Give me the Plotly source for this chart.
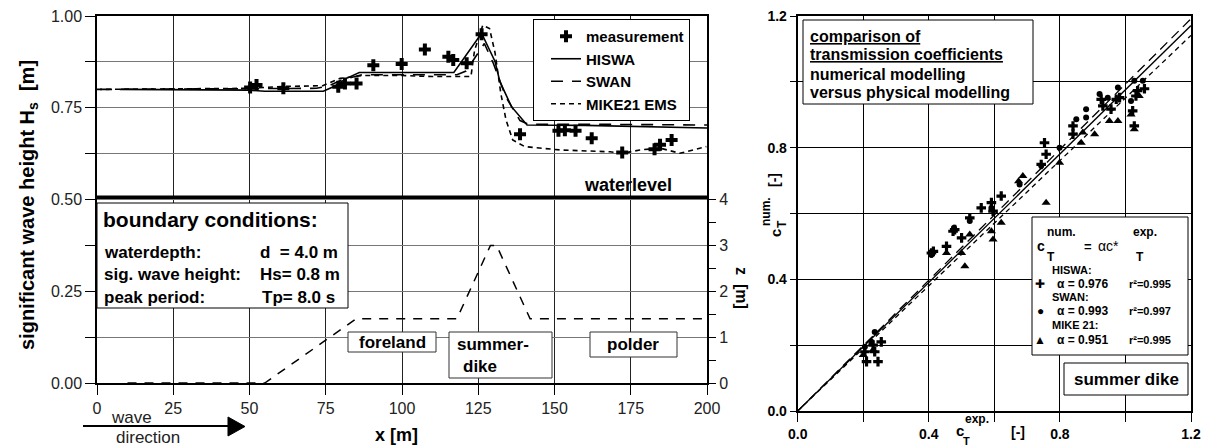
import plotly.graph_objects as go

# ---------------- Left panel data (wave height along the flume) ----------------
meas_x = [50.2, 52.3, 61.1, 79.1, 81.3, 85.1, 90.6, 99.9, 107.5, 115.2, 116.8, 121.2,
          126.1, 138.7, 151.3, 153.4, 156.9, 162.2, 172.2, 182.8, 184.6, 188.4]
meas_h = [0.805, 0.812, 0.803, 0.807, 0.816, 0.816, 0.866, 0.869, 0.909, 0.889, 0.880, 0.871,
          0.950, 0.678, 0.687, 0.689, 0.687, 0.667, 0.628, 0.637, 0.649, 0.662]

hiswa_x = [7.5, 50, 55, 72, 74.2, 77.5, 81.8, 86, 100, 117, 126.1, 130.5, 132.1, 135.9, 141, 160, 200]
hiswa_h = [0.800, 0.798, 0.795, 0.794, 0.795, 0.807, 0.830, 0.846, 0.846, 0.846, 0.953, 0.876,
           0.821, 0.753, 0.703, 0.702, 0.695]

swan_x = [1, 50, 72, 76, 80, 87, 100, 118, 121, 123.3, 127, 130, 134, 138.7, 141.5, 160, 200]
swan_h = [0.800, 0.802, 0.803, 0.810, 0.825, 0.840, 0.840, 0.840, 0.850, 0.880, 0.925, 0.870,
          0.780, 0.715, 0.705, 0.705, 0.703]

mike_x = [0, 50, 61, 74, 79.7, 87, 100, 110, 122.6, 123.8, 126.5, 128.7, 130.5, 132.4, 134.1,
          136.3, 140.3, 151.8, 168.2, 172.5, 178, 184.6, 191.1, 199.8]
mike_h = [0.800, 0.803, 0.808, 0.810, 0.830, 0.838, 0.838, 0.835, 0.835, 0.907, 0.975, 0.966,
          0.900, 0.789, 0.717, 0.662, 0.644, 0.635, 0.630, 0.626, 0.635, 0.640, 0.626, 0.644]

profile_x = [10, 55, 85, 118, 129, 131, 142, 200]
profile_z = [0.0, 0.0, 1.4, 1.4, 3.0, 3.0, 1.4, 1.4]
waterlevel_z = 4.05

x_ticks = [0, 25, 50, 75, 100, 125, 150, 175, 200]
h_ticks = [0, 0.125, 0.25, 0.375, 0.5, 0.625, 0.75, 0.875, 1.0]
h_ticktext = ["0.00", " ", "0.25", " ", "0.50", " ", "0.75", " ", "1.00"]
z_ticks = [0, 0.5, 1, 1.5, 2, 2.5, 3, 3.5, 4]
z_ticktext = ["0", " ", "1", " ", "2", " ", "3", " ", "4"]

# ---------------- Right panel data (transmission coefficients) ----------------
hiswa_exp = [0.205, 0.21, 0.245, 0.235, 0.255, 0.23, 0.408, 0.414, 0.454, 0.474, 0.50, 0.479,
             0.525, 0.56, 0.591, 0.596, 0.621, 0.743, 0.753, 0.758, 0.84, 0.84, 0.926, 0.931,
             0.956, 0.972, 0.982, 1.022, 1.027, 1.037, 1.058, 1.032]
hiswa_num = [0.18, 0.15, 0.15, 0.18, 0.21, 0.20, 0.48, 0.485, 0.50, 0.546, 0.526, 0.551,
             0.587, 0.617, 0.633, 0.607, 0.653, 0.749, 0.815, 0.78, 0.841, 0.866, 0.947, 0.927,
             0.917, 0.947, 0.952, 0.912, 0.866, 0.973, 0.979, 0.957]

swan_exp = [0.205, 0.235, 0.225, 0.408, 0.477, 0.525, 0.591, 0.677, 0.743, 0.799, 0.85, 0.88,
            0.88, 0.921, 0.946, 0.977, 1.017, 1.027, 1.053]
swan_num = [0.195, 0.24, 0.21, 0.475, 0.557, 0.577, 0.617, 0.688, 0.745, 0.80, 0.886, 0.892,
            0.917, 0.963, 0.952, 0.983, 0.942, 1.003, 1.003]

mike_exp = [0.20, 0.23, 0.454, 0.50, 0.525, 0.51, 0.591, 0.596, 0.621, 0.674, 0.687, 0.758,
            0.799, 0.865, 0.87, 0.906, 0.951, 0.977, 1.017, 1.027, 1.042]
mike_num = [0.17, 0.185, 0.48, 0.48, 0.536, 0.44, 0.546, 0.521, 0.572, 0.698, 0.714, 0.633,
            0.754, 0.815, 0.846, 0.841, 0.881, 0.881, 0.901, 0.856, 0.957]

fit_names = ["HISWA", "SWAN", "MIKE 21"]
fit_alpha = [0.976, 0.993, 0.951]
fit_r2 = [0.995, 0.997, 0.995]
ct_range = [0.0, 1.2]
ct_ticks = [0.0, 0.2, 0.4, 0.6, 0.8, 1.0, 1.2]
ct_ticktext = ["0.0", " ", "0.4", " ", "0.8", " ", "1.2"]

# ---------------- layout helpers (pixel -> paper) ----------------
W, H = 1208, 447
ML, MR, MT, MB = 97, 17, 16, 36
PW, PH = W - ML - MR, H - MT - MB


def PX(p):
    return (p - ML) / PW


def PY(p):
    return (H - MB - p) / PH


FONT = "Liberation Sans, Arial, Helvetica, sans-serif"
annotations = []
shapes = []


def A(x, y, text, size=14, bold=True, xanchor="center", yanchor="middle", angle=0, color="black"):
    annotations.append(dict(
        x=PX(x), y=PY(y), xref="paper", yref="paper", text=("<b>%s</b>" % text) if bold else text,
        showarrow=False, xanchor=xanchor, yanchor=yanchor, textangle=angle,
        font=dict(family=FONT, size=size, color=color)))


def R(x0, y0, x1, y1, color="black", width=1):
    shapes.append(dict(type="rect", xref="paper", yref="paper", x0=PX(x0), x1=PX(x1),
                       y0=PY(y1), y1=PY(y0), line=dict(color=color, width=width),
                       fillcolor="white", layer="above"))


fig = go.Figure()

# ---- left panel traces ----
fig.add_trace(go.Scatter(x=[x_ticks[0], x_ticks[-1]], y=[waterlevel_z, waterlevel_z],
                         xaxis="x", yaxis="y3", mode="lines",
                         line=dict(color="black", width=3.5), showlegend=False, hoverinfo="skip"))
fig.add_trace(go.Scatter(x=profile_x, y=profile_z, xaxis="x", yaxis="y3", mode="lines",
                         line=dict(color="black", width=1.5, dash="9px,8px"),
                         showlegend=False, hoverinfo="skip"))
fig.add_trace(go.Scatter(x=hiswa_x, y=hiswa_h, xaxis="x", yaxis="y", mode="lines", name="HISWA",
                         line=dict(color="black", width=1.6), legendrank=2))
fig.add_trace(go.Scatter(x=swan_x, y=swan_h, xaxis="x", yaxis="y", mode="lines", name="SWAN",
                         line=dict(color="black", width=1.6, dash="12px,9px"), legendrank=3))
fig.add_trace(go.Scatter(x=mike_x, y=mike_h, xaxis="x", yaxis="y", mode="lines", name="MIKE21 EMS",
                         line=dict(color="black", width=1.6, dash="5px,4px"), legendrank=4))
fig.add_trace(go.Scatter(x=meas_x, y=meas_h, xaxis="x", yaxis="y", mode="markers", name="measurement",
                         marker=dict(symbol="cross", size=10, color="black"), legendrank=1))

# ---- right panel traces ----
fit_dash = ["solid", "10px,6px", "5px,4px"]
for name, a, d in zip(fit_names, fit_alpha, fit_dash):
    fig.add_trace(go.Scatter(x=ct_range, y=[a * v for v in ct_range], xaxis="x2", yaxis="y2",
                             mode="lines", line=dict(color="black", width=1.3, dash=d),
                             showlegend=False, name=name + " fit"))
fig.add_trace(go.Scatter(x=mike_exp, y=mike_num, xaxis="x2", yaxis="y2", mode="markers",
                         marker=dict(symbol="triangle-up", size=8, color="black"), showlegend=False,
                         name="MIKE 21"))
fig.add_trace(go.Scatter(x=swan_exp, y=swan_num, xaxis="x2", yaxis="y2", mode="markers",
                         marker=dict(symbol="circle", size=6, color="black"), showlegend=False,
                         name="SWAN"))
fig.add_trace(go.Scatter(x=hiswa_exp, y=hiswa_num, xaxis="x2", yaxis="y2", mode="markers",
                         marker=dict(symbol="cross", size=8, color="black"), showlegend=False,
                         name="HISWA"))

# ---------------- annotations / boxes ----------------
# left panel
A(28, 205, "significant wave height H<sub>s</sub>  [m]", size=20, angle=-90)
A(396, 435, "x [m]", size=18)
A(742, 288, "z  [m]", size=16, angle=90)
A(628, 185, "waterlevel", size=18)

R(97, 203, 348, 308)
A(101, 219, "boundary conditions:", size=21, xanchor="left")
A(102, 252, "waterdepth:", size=17, xanchor="left")
A(102, 274, "sig. wave height:", size=17, xanchor="left")
A(102, 297, "peak period:", size=17, xanchor="left")
A(258, 252, "d  = 4.0 m", size=17, xanchor="left")
A(258, 274, "Hs= 0.8 m", size=17, xanchor="left")
A(260, 297, "Tp= 8.0 s", size=17, xanchor="left")

R(348, 332, 436, 352, color="#333")
A(392, 342, "foreland", size=17)
R(449, 332, 552, 378, color="#333")
A(455, 344, "summer-", size=17, xanchor="left")
A(461, 366, "dike", size=17, xanchor="left")
R(590, 332, 677, 357, color="#333")
A(633, 344, "polder", size=17)

# wave direction arrow
shapes.append(dict(type="line", xref="paper", yref="paper", x0=PX(83), x1=PX(230),
                   y0=PY(426), y1=PY(426), line=dict(color="black", width=2)))
shapes.append(dict(type="path", xref="paper", yref="paper",
                   path="M %f,%f L %f,%f L %f,%f Z" % (PX(228), PY(417), PX(245), PY(426.5), PX(228), PY(436)),
                   fillcolor="black", line=dict(color="black", width=1)))
A(131, 417, "wave", size=17, bold=False, color="#222")
A(148, 438, "direction", size=17, bold=False, color="#222")

# right panel
A(766, 212, "num.", size=12, angle=-90)
A(775, 233, "c", size=15, angle=-90)
A(782, 224, "T", size=12, angle=-90)
A(774, 180, "[-]", size=14, angle=-90)

A(960, 430, "c", size=15)
A(977, 419, "exp.", size=12)
A(966, 441, "T", size=11)
A(1018, 432, "[-]", size=14)

R(803, 20, 1033, 104)
A(808, 37, "<u>comparison of</u>", size=16, xanchor="left")
A(808, 55, "<u>transmission coefficients</u>", size=16, xanchor="left")
A(808, 74, "numerical modelling", size=16, xanchor="left")
A(808, 92, "versus physical modelling", size=16, xanchor="left")

R(1032, 217, 1188, 355)
A(1041, 246, "c", size=14)
A(1061, 232, "num.", size=12)
A(1051, 257, "T", size=12)
A(1088, 246, "=", size=13)
A(1108, 246, "αc*", size=14, bold=False)
A(1145, 232, "exp.", size=12)
A(1140, 257, "T", size=12)

sym = ["✚", "●", "▲"]
row_y = [(270, 284), (297, 311), (325, 340)]
for name, a, r2, s, (yh, yr) in zip(fit_names, fit_alpha, fit_r2, sym, row_y):
    A(1050, yh, name + ":", size=11, xanchor="left")
    A(1040, yr, s, size=12, bold=False)
    A(1055, yr, "α = %.3f" % a, size=12, xanchor="left")
    A(1127, yr, "r²=%.3f" % r2, size=11, xanchor="left")

R(1064, 363, 1188, 395)
A(1126, 379, "summer dike", size=17)

# ---------------- axes ----------------
left_dom_bottom = PY(383)
tickfont = dict(family=FONT, size=16, color="#222")
boldtick = dict(family=FONT, size=14, color="black", weight="bold")

fig.update_layout(
    width=W, height=H,
    margin=dict(l=ML, r=MR, t=MT, b=MB, autoexpand=False),
    paper_bgcolor="white", plot_bgcolor="white",
    font=dict(family=FONT, color="black"),
    showlegend=True,
    legend=dict(x=PX(533), y=PY(19), xanchor="left", yanchor="top",
                bordercolor="black", borderwidth=1, bgcolor="white",
                font=dict(family=FONT, size=15, color="black", weight="bold"),
                tracegroupgap=0, itemwidth=30, indentation=12),
    xaxis=dict(domain=[0, PX(707)], range=[0, 200], anchor="y", tickvals=x_ticks,
               ticks="outside", ticklen=10, tickcolor="black", tickwidth=1, automargin=False,
               showgrid=True, gridcolor="#222", gridwidth=1, zeroline=False,
               showline=True, linecolor="black", linewidth=2, mirror=True, tickfont=tickfont),
    yaxis=dict(domain=[left_dom_bottom, 1], range=[0, 1], anchor="x", tickvals=h_ticks,
               ticktext=h_ticktext, ticks="outside", ticklen=10, tickcolor="black", automargin=False,
               showgrid=True, gridcolor="#777", gridwidth=1, zeroline=False,
               showline=True, linecolor="black", linewidth=1.5, mirror=True, tickfont=tickfont),
    yaxis3=dict(overlaying="y", side="right", anchor="x", range=[0, 8], tickvals=z_ticks,
                ticktext=z_ticktext, ticks="outside", ticklen=8, tickcolor="black", automargin=False,
                showgrid=False, zeroline=False, showline=False, tickfont=tickfont),
    xaxis2=dict(domain=[PX(797.7), 1], range=ct_range, anchor="y2", tickvals=ct_ticks,
                ticktext=ct_ticktext, ticks="outside", ticklen=9, tickcolor="black", automargin=False,
                showgrid=True, gridcolor="black", gridwidth=1, zeroline=False,
                showline=True, linecolor="black", linewidth=2, mirror=True, tickfont=boldtick),
    yaxis2=dict(domain=[0, 1], range=ct_range, anchor="x2", tickvals=ct_ticks,
                ticktext=ct_ticktext, ticks="outside", ticklen=6, tickcolor="black", automargin=False,
                showgrid=True, gridcolor="black", gridwidth=1, zeroline=False,
                showline=True, linecolor="black", linewidth=2, mirror=True, tickfont=boldtick),
    annotations=annotations,
    shapes=shapes,
)

# remove the browser's default 8px page margin so the figure sits at the window origin
fig.write_html("out.html", config={"displayModeBar": False},
               post_script="document.body.style.margin='0px';")
